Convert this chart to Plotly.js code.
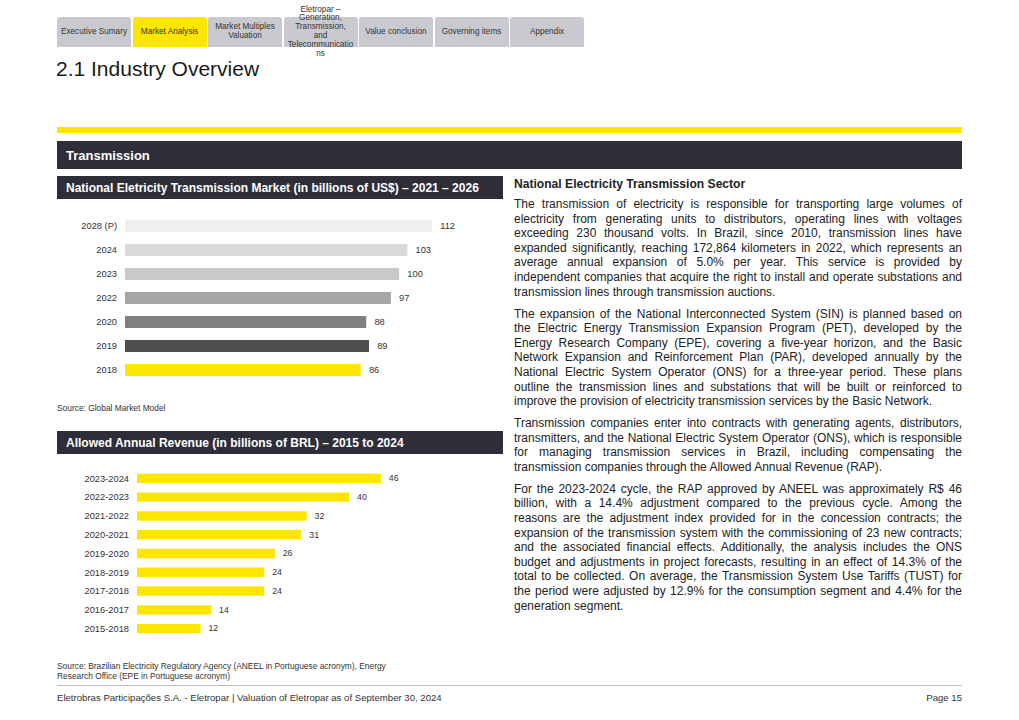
<!DOCTYPE html>
<html>
<head>
<meta charset="utf-8">
<script src="https://cdn.plot.ly/plotly-3.0.1.min.js"></script>
<style>
  html, body { margin:0; padding:0; background:#fff; }
  body { width:1019px; height:720px; position:relative; overflow:hidden; font-family: Arial, "Liberation Sans", sans-serif; color:#1a1a1a; }
  .tab { position:absolute; top:17px; height:30px; width:74px; background:#c9cacf; border-radius:3px 3px 0 0;
         display:flex; align-items:center; justify-content:center; text-align:center; font-size:8.2px; line-height:8.8px; color:#333; overflow:visible; }
  .tab.active { background:#ffe600; }
  #title { position:absolute; left:56px; top:57px; font-size:21px; color:#1a1a1a; white-space:nowrap; }
  .yline { position:absolute; left:57px; top:127px; width:905px; height:6px; background:#ffe600; }
  .darkbar { position:absolute; background:#2e2e38; color:#fff; font-weight:bold; display:flex; align-items:center; box-sizing:border-box; padding-left:9px; white-space:nowrap; }
  .src { position:absolute; left:57px; font-size:8.4px; color:#333; white-space:nowrap; }
  #rtext { position:absolute; left:514px; top:176px; width:448px; font-size:12px; line-height:14.6px; color:#222; }
  #rtext h4 { margin:0 0 5px 0; font-size:12.1px; font-weight:bold; line-height:16px; }
  #rtext p { margin:0 0 7.4px 0; }
  #rtext .l { display:block; white-space:nowrap; text-align:justify; text-align-last:justify; }
  #rtext .e { display:block; white-space:nowrap; text-align:left; }
  .chart { position:absolute; left:57px; width:446px; height:185px; }
  .gline { position:absolute; left:57px; top:685px; width:905px; height:1px; background:#bdbdbd; }
  .foot { position:absolute; top:692px; font-size:9.6px; color:#333; white-space:nowrap; }
</style>
</head>
<body>
<div class="tab" style="left:57px">Executive Sumary</div>
<div class="tab active" style="left:132.5px">Market Analysis</div>
<div class="tab" style="left:208px">Market Multiples<br>Valuation</div>
<div class="tab" style="left:283.5px">Eletropar –<br>Generation,<br>Transmission,<br>and<br>Telecommunicatio<br>ns</div>
<div class="tab" style="left:359px">Value conclusion</div>
<div class="tab" style="left:434.5px">Governing items</div>
<div class="tab" style="left:510px">Appendix</div>

<div id="title">2.1 Industry Overview</div>
<div class="yline"></div>
<div class="darkbar" style="left:57px;top:141px;width:905px;height:28px;font-size:13px;">Transmission</div>

<div class="darkbar" style="left:57px;top:176px;width:446px;height:23px;font-size:12px;">National Eletricity Transmission Market (in billions of US$) – 2021 – 2026</div>
<div id="chart1" class="chart" style="top:205px"></div>
<div class="src" style="top:403px">Source: Global Market Model</div>

<div class="darkbar" style="left:57px;top:431px;width:446px;height:23px;font-size:12px;">Allowed Annual Revenue (in billions of BRL) – 2015 to 2024</div>
<div id="chart2" class="chart" style="top:460px"></div>
<div class="src" style="top:661px;line-height:10px;">Source: Brazilian Electricity Regulatory Agency (ANEEL in Portuguese acronym), Energy<br>Research Office (EPE in Portuguese acronym)</div>

<div id="rtext">
  <h4>National Electricity Transmission Sector</h4>
  <p>
    <span class="l">The transmission of electricity is responsible for transporting large volumes of</span>
    <span class="l">electricity from generating units to distributors, operating lines with voltages</span>
    <span class="l">exceeding 230 thousand volts. In Brazil, since 2010, transmission lines have</span>
    <span class="l">expanded significantly, reaching 172,864 kilometers in 2022, which represents an</span>
    <span class="l">average annual expansion of 5.0% per year. This service is provided by</span>
    <span class="l">independent companies that acquire the right to install and operate substations and</span>
    <span class="e">transmission lines through transmission auctions.</span>
  </p>
  <p>
    <span class="l">The expansion of the National Interconnected System (SIN) is planned based on</span>
    <span class="l">the Electric Energy Transmission Expansion Program (PET), developed by the</span>
    <span class="l">Energy Research Company (EPE), covering a five-year horizon, and the Basic</span>
    <span class="l">Network Expansion and Reinforcement Plan (PAR), developed annually by the</span>
    <span class="l">National Electric System Operator (ONS) for a three-year period. These plans</span>
    <span class="l">outline the transmission lines and substations that will be built or reinforced to</span>
    <span class="e">improve the provision of electricity transmission services by the Basic Network.</span>
  </p>
  <p>
    <span class="l">Transmission companies enter into contracts with generating agents, distributors,</span>
    <span class="l">transmitters, and the National Electric System Operator (ONS), which is responsible</span>
    <span class="l">for managing transmission services in Brazil, including compensating the</span>
    <span class="e">transmission companies through the Allowed Annual Revenue (RAP).</span>
  </p>
  <p>
    <span class="l">For the 2023-2024 cycle, the RAP approved by ANEEL was approximately R$ 46</span>
    <span class="l">billion, with a 14.4% adjustment compared to the previous cycle. Among the</span>
    <span class="l">reasons are the adjustment index provided for in the concession contracts; the</span>
    <span class="l">expansion of the transmission system with the commissioning of 23 new contracts;</span>
    <span class="l">and the associated financial effects. Additionally, the analysis includes the ONS</span>
    <span class="l">budget and adjustments in project forecasts, resulting in an effect of 14.3% of the</span>
    <span class="l">total to be collected. On average, the Transmission System Use Tariffs (TUST) for</span>
    <span class="l">the period were adjusted by 12.9% for the consumption segment and 4.4% for the</span>
    <span class="e">generation segment.</span>
  </p>
</div>

<div class="gline"></div>
<div class="foot" style="left:57px">Eletrobras Participações S.A. - Eletropar | Valuation of Eletropar as of September 30, 2024</div>
<div class="foot" style="right:57px">Page 15</div>

<script>
// Data
var marketYears = ["2028 (P)", "2024", "2023", "2022", "2020", "2019", "2018"];
var marketValues = [112, 103, 100, 97, 88, 89, 86];
var rapCycles = ["2023-2024", "2022-2023", "2021-2022", "2020-2021", "2019-2020", "2018-2019", "2017-2018", "2016-2017", "2015-2018"];
var rapValues = [46, 40, 32, 31, 26, 24, 24, 14, 12];

// Styles
var marketColors = ["#efefef", "#dadada", "#c9c9c9", "#a5a5a5", "#7f7f7f", "#4e4e4e", "#ffe600"];
var fontFam = 'Arial, "Liberation Sans", sans-serif';

function makeLayout(cats, range, margin, gap) {
  return {
    width: 446, height: 185,
    margin: margin,
    paper_bgcolor: 'rgba(0,0,0,0)', plot_bgcolor: 'rgba(0,0,0,0)',
    showlegend: false,
    bargap: gap,
    font: {family: fontFam, size: 9, color: '#333'},
    xaxis: {range: range, visible: false, fixedrange: true},
    yaxis: {type: 'category', categoryorder: 'array', categoryarray: cats, autorange: 'reversed',
            showgrid: false, zeroline: false, showline: false, ticks: '', ticklabelstandoff: 7,
            tickfont: {family: fontFam, size: 9.3, color: '#333'}}
  };
}

Plotly.newPlot('chart1', [{
  type: 'bar', orientation: 'h', y: marketYears, x: marketValues,
  marker: {color: marketColors},
  text: marketValues, texttemplate: '  %{x}', textposition: 'outside', cliponaxis: false,
  textfont: {family: fontFam, size: 9.3, color: '#333'}, hoverinfo: 'none'
}], makeLayout(marketYears, [0, 136.8], {l: 68, r: 3, t: 9, b: 8}, 0.5), {staticPlot: true});

Plotly.newPlot('chart2', [{
  type: 'bar', orientation: 'h', y: rapCycles, x: rapValues,
  marker: {color: '#ffe600'},
  text: rapValues, texttemplate: '  %{x}', textposition: 'outside', cliponaxis: false,
  textfont: {family: fontFam, size: 9.3, color: '#333'}, hoverinfo: 'none'
}], makeLayout(rapCycles, [0, 64.1], {l: 80, r: 26, t: 9, b: 7}, 0.5), {staticPlot: true});
</script>
</body>
</html>
